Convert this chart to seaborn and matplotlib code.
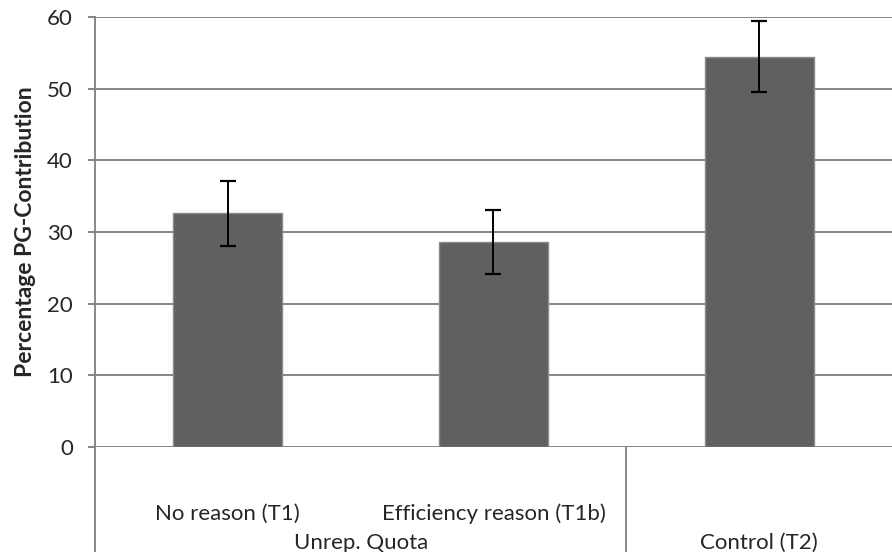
import pandas as pd
import seaborn as sns
import matplotlib.pyplot as plt

# data
treatments = ["No reason (T1)", "Efficiency reason (T1b)", "Control (T2)"]
groups = ["Unrep. Quota", "Unrep. Quota", "Control (T2)"]
contribution = [32.6, 28.6, 54.5]
error = [4.6, 4.5, 5.0]
y_ticks = [0, 10, 20, 30, 40, 50, 60]

sns.set_style("white")
plt.rcParams["font.family"] = ["Lato", "DejaVu Sans"]

df = pd.DataFrame({"treatment": treatments, "pg": contribution})

fig = plt.figure(figsize=(8.92, 5.52), dpi=100)
ax = fig.add_axes([0.1065, 0.19, 0.8935, 0.779])

grid_col = "#868686"
for t in y_ticks:
    ax.axhline(t, color=grid_col, lw=1.4, zorder=0)

sns.barplot(
    data=df,
    x="treatment",
    y="pg",
    color="#606060",
    saturation=1,
    width=0.41,
    edgecolor="#8a8a8a",
    linewidth=1,
    ax=ax,
    zorder=2
)

ax.errorbar(
    range(len(contribution)),
    contribution,
    yerr=error,
    fmt="none",
    ecolor="black",
    elinewidth=1.4,
    capsize=6,
    capthick=1.6,
    zorder=3
)

ax.set_xlim(-0.5, 2.5)
ax.set_ylim(0, 60)
ax.set_yticks(y_ticks)
ax.tick_params(axis="y", labelsize=16, length=5, width=1.4,
               color=grid_col, direction="out", pad=11, left=True)
ax.set_ylabel("Percentage PG-Contribution", fontsize=16.5,
              fontweight="bold", labelpad=8)
ax.set_xlabel("")
ax.set_xticks([])

for s in ["top", "right", "bottom"]:
    ax.spines[s].set_visible(False)
ax.spines["left"].set_color(grid_col)
ax.spines["left"].set_linewidth(1.4)

# multi-level category axis
tr = ax.get_xaxis_transform()
ax.plot([-0.5, -0.5], [0, -0.25], color=grid_col, lw=1.4,
        transform=tr, clip_on=False)
ax.plot([1.5, 1.5], [0, -0.25], color=grid_col, lw=1.4,
        transform=tr, clip_on=False)

for i, lab in enumerate(treatments[:2]):
    ax.text(i, -0.155, lab, transform=tr, ha="center", va="center",
            fontsize=16)

ax.text(0.5, -0.222, groups[0], transform=tr, ha="center", va="center",
        fontsize=16)
ax.text(2, -0.222, groups[2], transform=tr, ha="center", va="center",
        fontsize=16)

plt.savefig("out.png", dpi=100)
plt.close()
